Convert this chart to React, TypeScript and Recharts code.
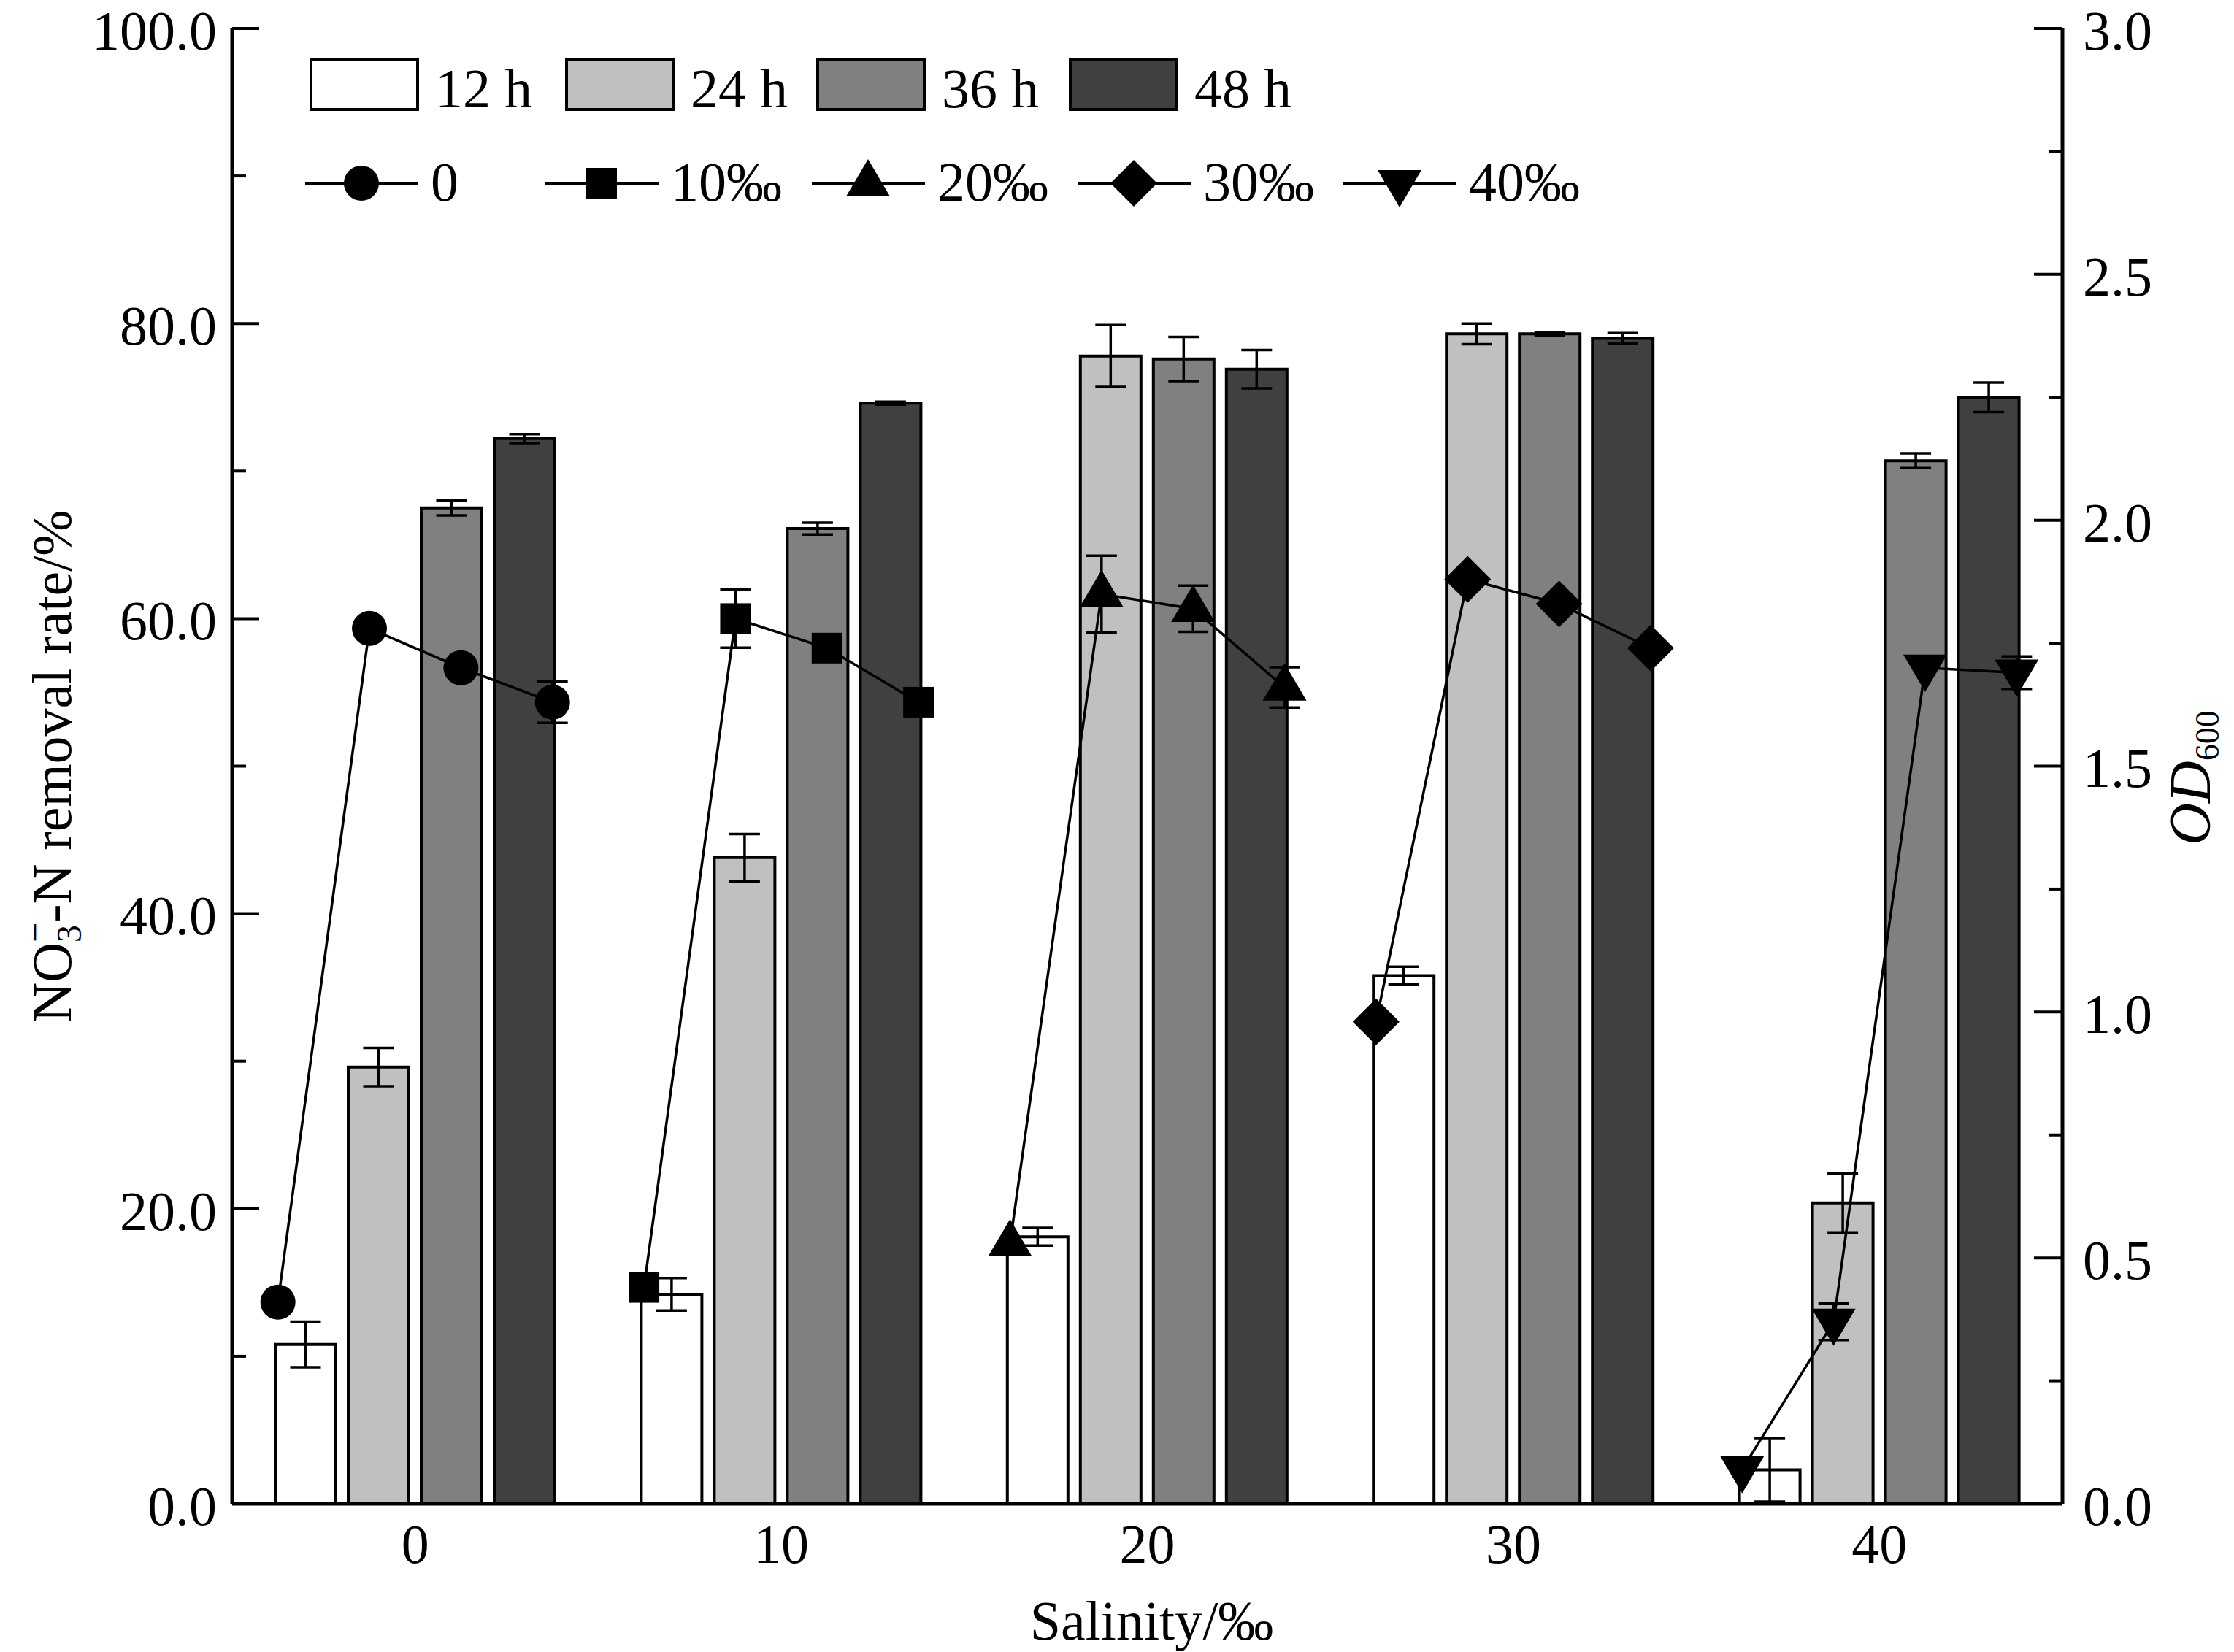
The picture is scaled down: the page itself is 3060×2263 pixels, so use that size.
import React from "react";
import { ComposedChart, Bar, Scatter, XAxis, YAxis, ErrorBar, Legend } from "recharts";

const salinityLabels = ["0", "10", "20", "30", "40"];
const salinityValues = [0, 10, 20, 30, 40];
const hourLabels = ["12 h", "24 h", "36 h", "48 h"];
const hourValues = [12, 24, 36, 48];

// NO3- -N removal rate (%), one array per sampling time, indexed by salinity
const removal12h = [10.8, 14.2, 18.1, 35.8, 2.3];
const removal24h = [29.6, 43.8, 77.8, 79.3, 20.4];
const removal36h = [67.5, 66.1, 77.6, 79.3, 70.7];
const removal48h = [72.2, 74.6, 76.9, 79.0, 75.0];
const removalErr12h = [1.55, 1.1, 0.6, 0.6, 2.15];
const removalErr24h = [1.3, 1.6, 2.1, 0.7, 2.0];
const removalErr36h = [0.5, 0.4, 1.5, 0.1, 0.5];
const removalErr48h = [0.3, 0.1, 1.3, 0.35, 1.0];

// OD600, one array per salinity, indexed by sampling time
const od0 = [0.41, 1.78, 1.7, 1.63];
const od10 = [0.44, 1.8, 1.74, 1.63];
const od20 = [0.53, 1.85, 1.82, 1.66];
const od30 = [0.98, 1.88, 1.83, 1.74];
const od40 = [0.07, 0.37, 1.7, 1.69];
const odErr0 = [0, 0, 0, 0.042];
const odErr10 = [0, 0.059, 0, 0];
const odErr20 = [0, 0.078, 0.047, 0.041];
const odErr30 = [0, 0, 0, 0];
const odErr40 = [0, 0.037, 0, 0.033];

const odLabels = ["0", "10‰", "20‰", "30‰", "40‰"];
const leftTicks = [0, 10, 20, 30, 40, 50, 60, 70, 80, 90, 100];
const rightTicks = [0, 0.25, 0.5, 0.75, 1, 1.25, 1.5, 1.75, 2, 2.25, 2.5, 2.75, 3];

const FONT = "'Liberation Serif', 'Times New Roman', serif";
const W = 3060;
const H = 2263;
const FS = 76;

const barFills = ["#ffffff", "#c0c0c0", "#808080", "#404040"];
const markerKinds = ["circle", "square", "triangle", "diamond", "down"];

const removalSeries = [removal12h, removal24h, removal36h, removal48h];
const removalErrSeries = [removalErr12h, removalErr24h, removalErr36h, removalErr48h];
const odSeries = [od0, od10, od20, od30, od40];
const odErrSeries = [odErr0, odErr10, odErr20, odErr30, odErr40];

const barData = salinityLabels.map((s, i) => {
  const row: Record<string, number | string> = { salinity: s };
  hourValues.forEach((h, k) => {
    row["r" + h] = removalSeries[k][i];
    row["e" + h] = removalErrSeries[k][i];
  });
  return row;
});

// each salinity's OD points sit over its four bars (hour mapped onto the salinity scale)
const odData = odSeries.map((vals, j) =>
  vals.map((v, i) => ({
    x: salinityValues[j] + (hourValues[i] - 30) / 4.8,
    od: v,
    err: odErrSeries[j][i],
  }))
);

function Marker({ kind, cx, cy }: { kind: string; cx: number; cy: number }) {
  switch (kind) {
    case "circle":
      return <circle cx={cx} cy={cy} r={24} fill="#000" />;
    case "square":
      return <rect x={cx - 21} y={cy - 21} width={42} height={42} fill="#000" />;
    case "triangle":
      return <polygon points={`${cx},${cy - 33} ${cx - 30},${cy + 18} ${cx + 30},${cy + 18}`} fill="#000" />;
    case "diamond":
      return <polygon points={`${cx},${cy - 32} ${cx + 32},${cy} ${cx},${cy + 32} ${cx - 32},${cy}`} fill="#000" />;
    default:
      return <polygon points={`${cx - 30},${cy - 18} ${cx + 30},${cy - 18} ${cx},${cy + 33}`} fill="#000" />;
  }
}

const LeftTick = (props: any) => {
  const { x, y, payload } = props;
  const v = payload.value as number;
  const major = v % 20 === 0;
  const ax = x + 21;
  return (
    <g>
      <line x1={ax} x2={ax + (major ? 37 : 19)} y1={y} y2={y} stroke="#000" strokeWidth={4} />
      {major && (
        <text x={x} y={y} dy="0.38em" textAnchor="end" fontSize={FS} fontFamily={FONT} fill="#000">
          {v.toFixed(1)}
        </text>
      )}
    </g>
  );
};

const RightTick = (props: any) => {
  const { x, y, payload } = props;
  const v = payload.value as number;
  const major = Math.abs((v * 2) % 1) < 1e-6;
  const ax = x - 28;
  return (
    <g>
      <line x1={ax} x2={ax - (major ? 39 : 19)} y1={y} y2={y} stroke="#000" strokeWidth={4} />
      {major && (
        <text x={x} y={y} dy="0.38em" textAnchor="start" fontSize={FS} fontFamily={FONT} fill="#000">
          {v.toFixed(1)}
        </text>
      )}
    </g>
  );
};

const barLegendX = [426, 776, 1120, 1466];
const lineLegendX = [418, 747, 1112, 1476, 1840];

const renderLegend = () => (
  <svg width={2300} height={310} style={{ display: "block" }}>
    {hourLabels.map((h, i) => (
      <g key={h}>
        <rect x={barLegendX[i]} y={82} width={146} height={68} fill={barFills[i]} stroke="#000" strokeWidth={4} />
        <text x={barLegendX[i] + 170} y={147} fontSize={FS} fontFamily={FONT} fill="#000">
          {h}
        </text>
      </g>
    ))}
    {odLabels.map((l, j) => (
      <g key={l}>
        <line x1={lineLegendX[j]} x2={lineLegendX[j] + 155} y1={251} y2={251} stroke="#000" strokeWidth={4} />
        <Marker kind={markerKinds[j]} cx={lineLegendX[j] + 77} cy={251} />
        <text x={lineLegendX[j] + 172} y={275} fontSize={FS} fontFamily={FONT} fill="#000">
          {l}
        </text>
      </g>
    ))}
  </svg>
);

const LeftTitle = (props: any) => {
  const cx = 97;
  const cy = props.viewBox.y + props.viewBox.height / 2;
  return (
    <text x={cx} y={cy} transform={`rotate(-90, ${cx}, ${cy})`} textAnchor="middle" fontSize={FS} fontFamily={FONT} fill="#000">
      <tspan>NO</tspan>
      <tspan fontSize={48} dy={14}>3</tspan>
      <tspan fontSize={48} dx={-24} dy={-47}>−</tspan>
      <tspan dy={33}>-N removal rate/%</tspan>
    </text>
  );
};

const RightTitle = (props: any) => {
  const cx = 3027;
  const cy = props.viewBox.y + props.viewBox.height / 2 + 16;
  return (
    <text x={cx} y={cy} transform={`rotate(-90, ${cx}, ${cy})`} textAnchor="middle" fontSize={80} fontFamily={FONT} fill="#000">
      <tspan fontStyle="italic">OD</tspan>
      <tspan fontSize={46} dy={12}>600</tspan>
    </text>
  );
};

const BottomTitle = (props: any) => {
  const { x, width } = props.viewBox;
  return (
    <text x={x + width / 2 + 6} y={2246} textAnchor="middle" fontSize={FS} fontFamily={FONT} fill="#000">
      Salinity/‰
    </text>
  );
};

export default function App() {
  return (
    <div style={{ marginTop: -8, marginLeft: -8, width: W, height: H }}>
      <ComposedChart
        width={W}
        height={H}
        data={barData}
        margin={{ top: 39, right: 35, bottom: 83, left: 18 }}
        barGap={17}
        style={{ fontFamily: FONT }}
      >
        <XAxis
          xAxisId="cat"
          dataKey="salinity"
          type="category"
          height={120}
          tickLine={false}
          tickSize={0}
          tickMargin={27}
          tick={{ fontSize: FS, fontFamily: FONT, fill: "#000" }}
          axisLine={{ stroke: "#000", strokeWidth: 5 }}
          label={<BottomTitle />}
        />
        <XAxis xAxisId="num" dataKey="x" type="number" domain={[-5, 45]} allowDataOverflow hide />
        <YAxis
          yAxisId="left"
          orientation="left"
          type="number"
          width={300}
          domain={[0, 100]}
          ticks={leftTicks}
          interval={0}
          allowDataOverflow
          tickLine={false}
          tickSize={0}
          tickMargin={21}
          tick={<LeftTick />}
          axisLine={{ stroke: "#000", strokeWidth: 5 }}
          label={<LeftTitle />}
        />
        <YAxis
          yAxisId="right"
          orientation="right"
          dataKey="od"
          type="number"
          width={200}
          domain={[0, 3]}
          ticks={rightTicks}
          interval={0}
          allowDataOverflow
          tickLine={false}
          tickSize={0}
          tickMargin={28}
          tick={<RightTick />}
          axisLine={{ stroke: "#000", strokeWidth: 5 }}
          label={<RightTitle />}
        />
        <Legend
          layout="horizontal"
          verticalAlign="middle"
          align="center"
          wrapperStyle={{ left: 0, top: 0, width: 2300, height: 310 }}
          content={renderLegend}
        />
        {hourValues.map((h, k) => (
          <Bar
            key={h}
            xAxisId="cat"
            yAxisId="left"
            dataKey={"r" + h}
            name={hourLabels[k]}
            barSize={83}
            fill={barFills[k]}
            stroke="#000"
            strokeWidth={4}
            isAnimationActive={false}
          >
            <ErrorBar dataKey={"e" + h} direction="y" width={21} stroke="#000" strokeWidth={3.5} />
          </Bar>
        ))}
        {odData.map((pts, j) => (
          <Scatter
            key={odLabels[j]}
            xAxisId="num"
            yAxisId="right"
            data={pts}
            name={odLabels[j]}
            line={{ stroke: "#000", strokeWidth: 3.5 }}
            shape={(p: any) => <Marker kind={markerKinds[j]} cx={p.cx} cy={p.cy} />}
            isAnimationActive={false}
          >
            <ErrorBar dataKey="err" direction="y" width={21} stroke="#000" strokeWidth={3.5} />
          </Scatter>
        ))}
      </ComposedChart>
    </div>
  );
}
